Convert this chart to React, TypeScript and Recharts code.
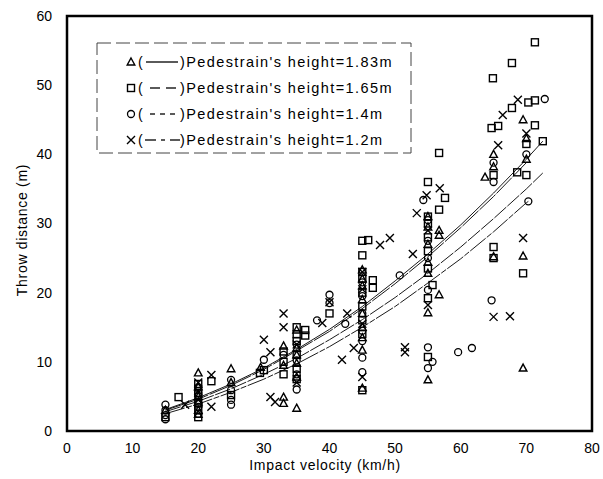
import { ScatterChart, Scatter, XAxis, YAxis, ReferenceArea } from 'recharts';

const xTicks = [0, 10, 20, 30, 40, 50, 60, 70, 80];
const yTicks = [0, 10, 20, 30, 40, 50, 60];

// measured points [velocity km/h, throw distance m]
const triangles = [
  [15, 3.0], [20, 8.4], [20, 6.4], [20, 5.0], [20, 4.2], [20, 3.0], [20, 2.4], [25, 9.0],
  [25, 7.0], [29.5, 9.2], [33, 12.3], [33, 9.5], [33, 4.9], [33, 4.0], [35, 14.6], [35, 12.0],
  [35, 11.0], [35, 9.8], [35, 7.8], [35, 3.3], [45, 23.3], [45, 22.0], [45, 21.0], [45, 19.0],
  [45, 17.0], [45, 15.0], [45, 13.5], [45, 11.7], [45, 6.2], [55, 31.0], [55, 29.5], [55, 27.0],
  [55, 24.4], [55, 22.8], [56.7, 29.0], [56.7, 28.3], [56.7, 19.7], [55, 17.1], [55, 7.4],
  [63.7, 36.7], [65, 40.0], [65, 38.2], [65, 25.2], [69.5, 45.0], [69.5, 25.3], [69.5, 9.1],
  [70, 39.3], [70, 42.3],
];
const squares = [
  [15, 2.0], [17, 4.9], [20, 2.0], [20, 3.0], [20, 4.0], [20, 5.5], [20, 6.8], [22, 7.2],
  [25, 5.2], [29.4, 8.4], [30, 8.8], [33, 11.5], [33, 10.0], [33, 8.2], [35, 15.0], [35, 14.0],
  [35, 13.0], [35, 11.0], [35, 9.0], [35, 7.5], [36.3, 14.6], [36.3, 13.8], [40, 17.0],
  [45, 27.5], [45.9, 27.6], [45, 25.4], [45, 23.0], [45, 22.0], [45, 20.0], [45, 18.0],
  [45, 16.0], [45, 14.0], [46.6, 21.8], [46.6, 20.7], [45, 5.9], [55, 36.0], [56.7, 40.2],
  [57.6, 33.7], [56.7, 32.0], [55, 31.0], [55, 30.0], [55, 28.0], [55, 26.0], [55, 23.5],
  [55.7, 21.1], [55, 19.2], [55, 10.7], [64.9, 51.0], [67.8, 53.2], [71.3, 56.2], [67.8, 46.7],
  [70.3, 47.5], [71.3, 47.8], [71.3, 44.2], [64.7, 43.8], [65.7, 44.1], [65, 37.0], [65, 26.6],
  [65, 25.0], [68.6, 37.4], [70, 37.0], [70, 41.5], [72.5, 41.9], [69.5, 22.8],
];
const circles = [
  [15, 3.8], [15, 3.0], [15, 2.3], [15, 1.7], [20, 2.5], [20, 3.5], [20, 4.0], [20, 5.0],
  [20, 5.5], [20, 6.2], [25, 7.4], [25, 5.9], [25, 4.5], [25, 3.8], [30, 10.3], [33, 11.0],
  [35, 12.5], [35, 10.2], [35, 8.2], [35, 6.0], [38.1, 16.0], [40, 19.7], [40, 18.5],
  [42.4, 15.5], [45, 21.5], [45, 19.5], [45, 17.0], [45, 14.5], [45, 13.0], [45, 10.6],
  [45, 8.5], [50.7, 22.5], [54.3, 33.4], [55, 30.5], [55, 27.5], [55, 25.0], [55, 20.4],
  [55, 12.1], [55.7, 10.0], [55, 9.1], [59.6, 11.4], [61.7, 12.0], [65, 36.0], [65, 38.8],
  [64.7, 18.9], [70, 40.0], [70.3, 33.2], [72.8, 48.0],
];
const crosses = [
  [18, 3.8], [20, 4.5], [20, 5.8], [20, 7.0], [22, 8.1], [22, 3.5], [30, 13.2], [31, 11.4],
  [31, 4.9], [31.7, 4.2], [33, 17.0], [33, 15.0], [35, 12.5], [35, 7.0], [38.9, 15.6],
  [40, 18.6], [41.9, 10.3], [42.7, 17.0], [43.7, 12.0], [45, 23.0], [45, 20.5], [45, 15.5],
  [45, 7.8], [47.7, 26.9], [49.2, 27.9], [51.5, 12.1], [51.5, 11.4], [52.7, 25.6], [53.3, 31.5],
  [54.8, 34.1], [56.8, 35.1], [55, 29.0], [55, 18.2], [65.7, 41.3], [66.4, 45.7], [68.7, 47.9],
  [65, 16.5], [67.5, 16.6], [69.5, 27.9], [70, 43.0],
];

// regression curves
const curveV183 = [15, 20, 25, 30, 35, 40, 45, 50, 55, 60, 65, 70, 72.5];
const curve183 = [3.1, 4.8, 6.8, 9.1, 11.8, 14.7, 18.0, 21.7, 25.6, 29.8, 34.4, 39.3, 41.9];
const curveV165 = [15, 20, 25, 30, 35, 40, 45, 50, 55, 60, 65, 70];
const curve165 = [3.0, 4.6, 6.6, 8.9, 11.6, 14.4, 17.7, 21.3, 25.2, 29.4, 33.9, 38.8];
const curveV14 = [15, 20, 25, 30, 35, 40, 45, 50, 55, 60, 65, 70, 72.5];
const curve14 = [2.8, 4.3, 6.1, 8.2, 10.5, 13.2, 16.1, 19.3, 22.8, 26.6, 30.7, 35.0, 37.3];
const curveV12 = [15, 20, 25, 30, 35, 40, 45, 50, 55, 60, 65, 70, 70.3];
const curve12 = [2.5, 3.9, 5.6, 7.5, 9.7, 12.2, 15.0, 18.0, 21.4, 24.9, 28.8, 33.0, 33.2];

const toPts = (arr: number[][]) => arr.map(([v, d]) => ({ v, d }));
const toCurve = (vs: number[], ds: number[]) => vs.map((v, i) => ({ v, d: ds[i] }));

const FONT = '"Liberation Sans", Arial, sans-serif';

const Tri = ({ cx, cy }: any) => (
  <path d={`M${cx},${cy - 4} L${cx + 3.8},${cy + 3} L${cx - 3.8},${cy + 3} Z`} fill="none" stroke="#000" strokeWidth={1.4} />
);
const Sq = ({ cx, cy }: any) => (
  <rect x={cx - 3.5} y={cy - 3.5} width={7} height={7} fill="none" stroke="#000" strokeWidth={1.4} />
);
const Circ = ({ cx, cy }: any) => <circle cx={cx} cy={cy} r={3.5} fill="none" stroke="#000" strokeWidth={1.3} />;
const Cross = ({ cx, cy }: any) => (
  <path d={`M${cx - 4},${cy - 4} L${cx + 4},${cy + 4} M${cx + 4},${cy - 4} L${cx - 4},${cy + 4}`} stroke="#000" strokeWidth={1.4} />
);
const NoDot = () => <g />;

const legendRows = [
  { label: "Pedestrain's height=1.83m", mark: 'tri', dash: [[146, 178]] },
  { label: "Pedestrain's height=1.65m", mark: 'sq', dash: [[150, 160], [166, 176]] },
  { label: "Pedestrain's height=1.4m", mark: 'circ', dash: [[150, 155], [160, 165], [170, 175]] },
  { label: "Pedestrain's height=1.2m", mark: 'x', dash: [[145, 156], [161, 165], [170, 180]] },
];

export default function App() {
  return (
    <div style={{ position: 'absolute', left: 0, top: 0, width: 603, height: 479, background: '#fff', fontFamily: FONT }}>
      <ScatterChart width={603} height={479} margin={{ top: 16, right: 11, bottom: 28, left: 0 }}>
        <XAxis
          type="number"
          dataKey="v"
          domain={[0, 80]}
          ticks={xTicks}
          axisLine={false}
          tickLine={false}
          tickSize={0}
          tickMargin={12}
          height={20}
          tick={{ fill: '#000', fontSize: 14, fontFamily: FONT }}
        />
        <YAxis
          type="number"
          dataKey="d"
          domain={[0, 60]}
          ticks={yTicks}
          axisLine={false}
          tickLine={false}
          tickSize={0}
          tickMargin={15}
          width={67}
          tick={{ fill: '#000', fontSize: 14, fontFamily: FONT }}
        />
        <ReferenceArea x1={0} x2={80} y1={0} y2={60} fill="none" stroke="#000" strokeWidth={2.5} ifOverflow="visible" />
        <Scatter data={toCurve(curveV183, curve183)} shape={NoDot} line={{ stroke: '#000', strokeWidth: 0.9 }} isAnimationActive={false} />
        <Scatter data={toCurve(curveV165, curve165)} shape={NoDot} line={{ stroke: '#000', strokeWidth: 0.9, strokeDasharray: '22 1.5' }} isAnimationActive={false} />
        <Scatter data={toCurve(curveV14, curve14)} shape={NoDot} line={{ stroke: '#000', strokeWidth: 0.9, strokeDasharray: '16 1.5' }} isAnimationActive={false} />
        <Scatter data={toCurve(curveV12, curve12)} shape={NoDot} line={{ stroke: '#000', strokeWidth: 0.9, strokeDasharray: '20 1.5 6 1.5' }} isAnimationActive={false} />
        <Scatter data={toPts(triangles)} shape={Tri} isAnimationActive={false} />
        <Scatter data={toPts(squares)} shape={Sq} isAnimationActive={false} />
        <Scatter data={toPts(circles)} shape={Circ} isAnimationActive={false} />
        <Scatter data={toPts(crosses)} shape={Cross} isAnimationActive={false} />
      </ScatterChart>
      <svg width={603} height={479} style={{ position: 'absolute', left: 0, top: 0, pointerEvents: 'none' }}>
        <text x={325} y={470} textAnchor="middle" fontSize={14} fontFamily={FONT} letterSpacing={0.7}>
          Impact velocity (km/h)
        </text>
        <text x={27} y={230} textAnchor="middle" fontSize={14} fontFamily={FONT} letterSpacing={0.7} transform="rotate(-90 27 230)">
          Throw distance (m)
        </text>
        <rect x={97} y={43} width={314} height={110} fill="#fff" stroke="#444" strokeWidth={1} strokeDasharray="14 5" />
        {legendRows.map((r, i) => {
          const y = 62 + i * 26;
          return (
            <g key={r.label}>
              {r.mark === 'tri' && <Tri cx={131} cy={y} />}
              {r.mark === 'sq' && <Sq cx={131} cy={y} />}
              {r.mark === 'circ' && <Circ cx={131} cy={y} />}
              {r.mark === 'x' && <Cross cx={131} cy={y} />}
              <text x={138} y={y + 5} fontSize={14} fontFamily={FONT}>(</text>
              {r.dash.map(([a, b], j) => (
                <line key={j} x1={a} x2={b} y1={y} y2={y} stroke="#000" strokeWidth={1.3} />
              ))}
              <text x={180} y={y + 5} fontSize={14.5} fontFamily={FONT} letterSpacing={1.4}>
                {')' + r.label}
              </text>
            </g>
          );
        })}
      </svg>
    </div>
  );
}
